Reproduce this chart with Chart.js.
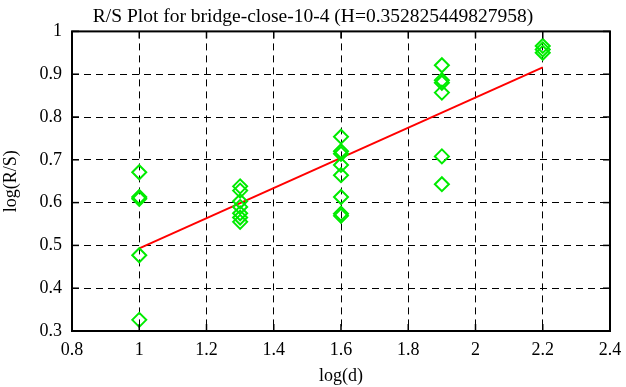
<!DOCTYPE html>
<html>
<head>
<meta charset="utf-8">
<script src="https://cdn.jsdelivr.net/npm/chart.js@4.4.1/dist/chart.umd.min.js"></script>
<style>
html,body{margin:0;padding:0;background:#fff;}
#wrap{width:626px;height:387px;position:relative;}
</style>
</head>
<body>
<div id="wrap"><canvas id="c" width="626" height="387"></canvas></div>
<script>
const titleText = "R/S Plot for bridge-close-10-4 (H=0.352825449827958)";
const xLabel = "log(d)";
const yLabel = "log(R/S)";
const logD = [1, 1.3, 1.6, 1.9, 2.2];
const rs_d1 = [0.671, 0.613, 0.609, 0.477, 0.326];
const rs_d13 = [0.638, 0.628, 0.603, 0.590, 0.575, 0.565, 0.555];
const rs_d16 = [0.754, 0.720, 0.714, 0.688, 0.664, 0.613, 0.574, 0.569];
const rs_d19 = [0.921, 0.886, 0.880, 0.857, 0.708, 0.643];
const rs_d22 = [0.966, 0.958, 0.950];
const fitX = [1, 2.2];
const fitY = [0.493, 0.916];

const groups = [rs_d1, rs_d13, rs_d16, rs_d19, rs_d22];
const pts = [];
groups.forEach((g, i) => g.forEach(v => pts.push({x: logD[i], y: v})));
const fitPts = fitX.map((x, i) => ({x: x, y: fitY[i]}));

const FONT = "'Liberation Serif', 'Times New Roman', serif";

const framePlugin = {
  id: 'frame',
  afterDatasetsDraw(chart) {
    const {ctx, chartArea: a} = chart;
    ctx.save();
    ctx.strokeStyle = '#000';
    ctx.lineWidth = 2;
    ctx.setLineDash([]);
    ctx.strokeRect(a.left, a.top, a.right - a.left, a.bottom - a.top);
    ctx.lineWidth = 1.5;
    const xs = chart.scales.x, ys = chart.scales.y;
    xs.ticks.forEach(t => {
      const px = xs.getPixelForValue(t.value);
      ctx.beginPath(); ctx.moveTo(px, a.bottom); ctx.lineTo(px, a.bottom - 7); ctx.stroke();
      ctx.beginPath(); ctx.moveTo(px, a.top); ctx.lineTo(px, a.top + 7); ctx.stroke();
    });
    ys.ticks.forEach(t => {
      const py = ys.getPixelForValue(t.value);
      ctx.beginPath(); ctx.moveTo(a.left, py); ctx.lineTo(a.left + 7, py); ctx.stroke();
      ctx.beginPath(); ctx.moveTo(a.right, py); ctx.lineTo(a.right - 7, py); ctx.stroke();
    });
    ctx.restore();
  }
};

new Chart(document.getElementById('c'), {
  type: 'scatter',
  data: {
    datasets: [
      {
        data: fitPts,
        showLine: true,
        borderColor: '#ff0000',
        borderWidth: 2,
        pointRadius: 0,
        fill: false,
        order: 2
      },
      {
        data: pts,
        pointStyle: 'rectRot',
        pointRadius: 7,
        pointBorderWidth: 2,
        pointBorderColor: 'rgb(0,235,0)',
        pointBackgroundColor: 'rgba(0,0,0,0)',
        showLine: false,
        order: 1
      }
    ]
  },
  plugins: [framePlugin],
  options: {
    responsive: false,
    animation: false,
    layout: {padding: {left: 0, right: 0, top: 0, bottom: 0}},
    plugins: {
      legend: {display: false},
      tooltip: {enabled: false},
      title: {
        display: true,
        text: titleText,
        color: '#000',
        font: {family: FONT, size: 19.5, weight: 'normal'},
        padding: {top: 5, bottom: 3}
      }
    },
    scales: {
      x: {
        type: 'linear',
        min: 0.8, max: 2.4,
        ticks: {stepSize: 0.2, color: '#000', font: {family: FONT, size: 18}, padding: 8,
          callback: v => String(Math.round(v * 10) / 10)},
        grid: {color: '#000', lineWidth: 1, drawTicks: false},
        border: {display: false, dash: [7, 5]},
        title: {display: true, text: xLabel, color: '#000', font: {family: FONT, size: 18}, padding: {top: 0, bottom: 0}},
        afterFit: s => { s.height = 56; s.paddingRight = 16; }
      },
      y: {
        type: 'linear',
        min: 0.3, max: 1,
        ticks: {stepSize: 0.1, color: '#000', font: {family: FONT, size: 18}, padding: 10,
          callback: v => String(Math.round(v * 10) / 10)},
        grid: {color: '#000', lineWidth: 1, drawTicks: false},
        border: {display: false, dash: [7, 5]},
        title: {display: true, text: yLabel, color: '#000', font: {family: FONT, size: 18}, padding: {top: 0, bottom: 2}},
        afterFit: s => { s.width = 72; }
      }
    }
  }
});
</script>
</body>
</html>
